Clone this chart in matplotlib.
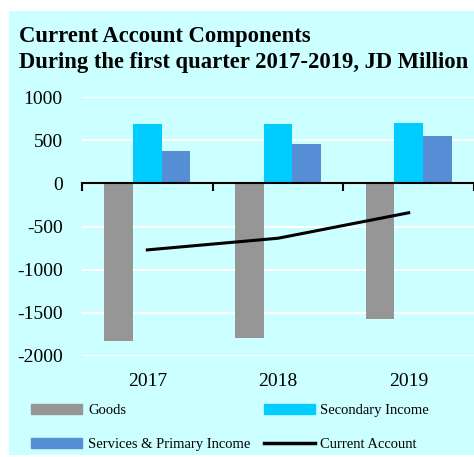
import numpy as np
import matplotlib.pyplot as plt
from matplotlib.patches import Rectangle, Patch
from matplotlib.lines import Line2D

plt.rcParams['font.family'] = ['Liberation Serif', 'DejaVu Serif']
plt.rcParams['axes.unicode_minus'] = False

# data (JD million)
years = ['2017', '2018', '2019']
goods = [-1830, -1787, -1573]
secondary_income = [686, 682, 694]
services_primary = [372, 461, 543]
current_account = [-771, -636, -341]

cyan_bg = '#CCFFFF'
c_goods = '#969696'
c_sec = '#00CCFF'
c_serv = '#558ED5'

fig = plt.figure(figsize=(4.74, 4.57), dpi=100)
fig.patch.set_facecolor('white')
fig.patches.append(Rectangle((9/474, 2/457), 1 - 9/474, 444/457,
                             transform=fig.transFigure, facecolor=cyan_bg,
                             edgecolor='none', zorder=-5))

ax = fig.add_axes([82/474, 101/457, 392/474, 259/457])
ax.set_facecolor('none')

x = np.arange(len(years))
w = 0.22
ax.bar(x - w, goods, w, color=c_goods, zorder=3)
ax.bar(x, secondary_income, w, color=c_sec, zorder=3)
ax.bar(x + w, services_primary, w, color=c_serv, zorder=3)
ax.plot(x, current_account, color='black', lw=2.2, zorder=4)

ax.set_xlim(-0.5, 2.47)
ax.set_ylim(-2000, 1000)
ax.set_yticks([1000, 500, 0, -500, -1000, -1500, -2000])
ax.grid(axis='y', color='white', lw=1.5, zorder=1)
ax.set_axisbelow(True)

for s in ['top', 'right', 'left']:
    ax.spines[s].set_visible(False)
ax.spines['bottom'].set_position(('data', 0))
ax.spines['bottom'].set_linewidth(1.5)
ax.spines['bottom'].set_zorder(5)
ax.set_xticks([-0.5, 0.5, 1.5, 2.5])
ax.set_xticklabels([])
ax.tick_params(axis='x', direction='out', length=6, width=1.5)
ax.tick_params(axis='y', length=0, pad=14, labelsize=14)

for i, yr in enumerate(years):
    ax.annotate(yr, (i, -2000), xytext=(0, -12), textcoords='offset points',
                ha='center', va='top', fontsize=14)

fig.text(19/474, 1 - 26/457,
         'Current Account Components\nDuring the first quarter 2017-2019, JD Million',
         ha='left', va='top', fontsize=16.3, fontweight='bold', linespacing=1.3)

handles = [Patch(color=c_goods), Patch(color=c_serv),
           Patch(color=c_sec), Line2D([], [], color='black', lw=2.5)]
labels = ['Goods', 'Services & Primary Income', 'Secondary Income', 'Current Account']
fig.legend(handles, labels, ncol=2, loc='upper left',
           bbox_to_anchor=(18/474, 1 - 391/457), frameon=False,
           fontsize=10.5, handlelength=3.5, handleheight=0.6,
           handletextpad=0.4, labelspacing=1.45, columnspacing=0.9)

fig.savefig('out.png', dpi=100, facecolor='white')
